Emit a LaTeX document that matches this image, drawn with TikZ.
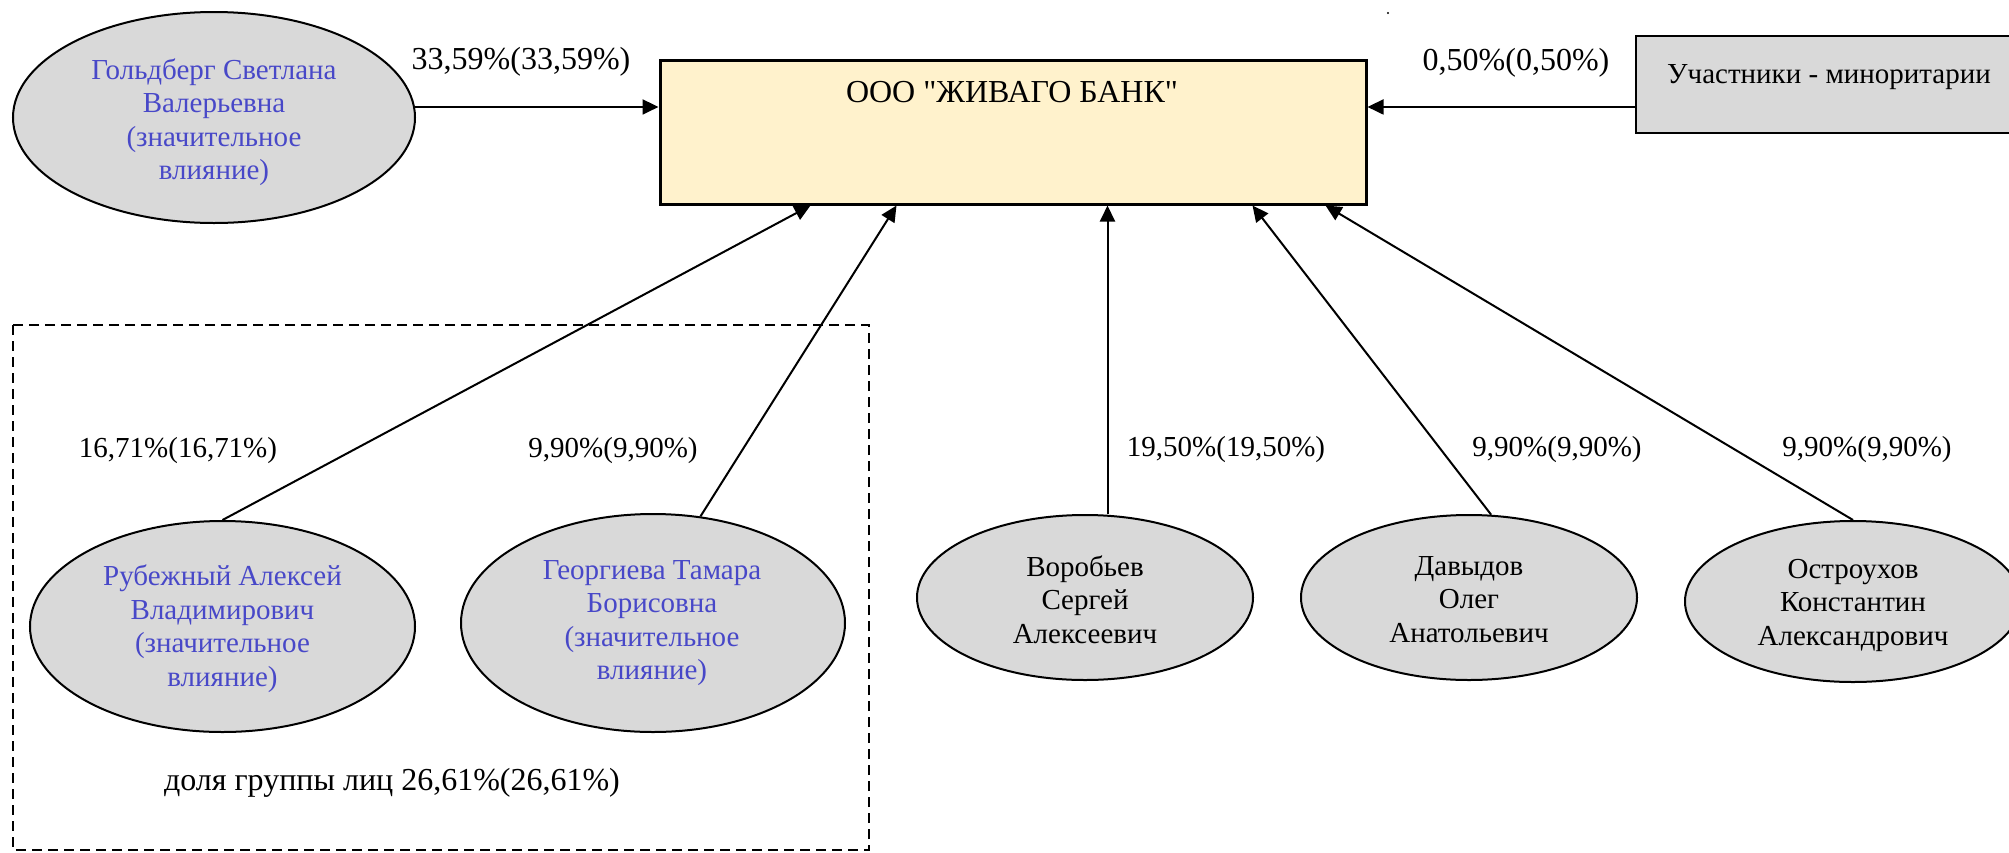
\documentclass[tikz,border=0pt]{standalone}
\usepackage{fontspec}
\setmainfont{Liberation Serif}
\newfontfamily\rawserif{Liberation Serif}
\usetikzlibrary{shapes.geometric,arrows.meta,calc}
\definecolor{ellfill}{RGB}{217,217,217}
\definecolor{bankfill}{RGB}{255,242,204}
\definecolor{nameblue}{RGB}{72,72,200}
\begin{document}
\begin{tikzpicture}[x=0.5pt,y=-0.5pt,
  every node/.style={font=\fontsize{14.5}{16.75}\selectfont, inner sep=0pt},
  person/.style={ellipse, draw=black, line width=1pt, fill=ellfill},
  txt/.style={align=center},
  bigtxt/.style={font=\fontsize{16}{18.4}\selectfont},
  bluetxt/.style={align=center, text=nameblue},
  arr/.style={line width=1pt, -{Triangle[length=8pt,width=7.5pt]}},
  grpbox/.style={line width=0.8pt, dash pattern=on 5pt off 3pt},
]
\useasboundingbox (0,0) rectangle (2009,852);

% group frame
\draw[grpbox] (13,325) rectangle (869,850);

% bank
\node[draw=black, line width=1.5pt, fill=bankfill, minimum width=353pt, minimum height=72pt] (bank) at (1013,132) {};
\node[bigtxt] (bankT) at (1012,92) {{\rawserif ООО "ЖИВАГО БАНК"}};

% minority box
\node[draw=black, line width=1pt, fill=ellfill, minimum width=197pt, minimum height=48.5pt] (minor) at (1833,84.5) {};
\node[txt] (minorT) at (1829,77) {Участники - миноритарии};

% persons
\node[person, minimum width=201pt, minimum height=105.5pt] (gold) at (214,117.5) {};
\node[bluetxt] (goldT) at (214,122) {Гольдберг Светлана\\Валерьевна\\(значительное\\влияние)};

\node[person, minimum width=192.5pt, minimum height=105.5pt] (rub) at (222.5,626.5) {};
\node[bluetxt] (rubT) at (222.5,628.5) {Рубежный Алексей\\Владимирович\\(значительное\\влияние)};

\node[person, minimum width=192pt, minimum height=109pt] (geo) at (653,623) {};
\node[bluetxt] (geoT) at (652,623) {Георгиева Тамара\\Борисовна\\(значительное\\влияние)};

\node[person, minimum width=168pt, minimum height=82.5pt] (vor) at (1085,597.5) {};
\node[txt] (vorT) at (1085,599.5) {Воробьев\\Сергей\\Алексеевич};

\node[person, minimum width=168pt, minimum height=82.5pt] (dav) at (1469,597.5) {};
\node[txt] (davT) at (1469,599.5) {Давыдов\\Олег\\Анатольевич};

\node[person, minimum width=168pt, minimum height=80.5pt] (ost) at (1853,601.5) {};
\node[txt] (ostT) at (1853,605) {Остроухов\\Константин\\Александрович};

% arrow targets on the bank's bottom edge
\coordinate (b1) at ($(bank.south west)+(152,0)$);
\coordinate (b2) at ($(bank.south west)+(238,0)$);
\coordinate (b3) at ($(bank.south west)+(449,0)$);
\coordinate (b4) at ($(bank.south west)+(594,0)$);
\coordinate (b5) at ($(bank.south west)+(667,0)$);

% connectors
\draw[arr] (gold.3) -- (gold.3 -| bank.west);
\draw[arr] (minor.west |- gold.3) -- (bank.east |- gold.3);
\draw[arr] (rub.north) -- (b1);
\draw[arr] (geo.66) -- (b2);
\draw[arr] (b3 |- vor.north) -- (b3);
\draw[arr] (dav.75) -- (b4);
\draw[arr] (ost.north) -- (b5);

% labels
\node[bigtxt] (l1) at (521,62) {33,59\%(33,59\%)};
\node[bigtxt] (l2) at (1516,63) {0,50\%(0,50\%)};
\node (l3) at (178,451) {16,71\%(16,71\%)};
\node (l4) at (613,451) {9,90\%(9,90\%)};
\node (l5) at (1226,450) {19,50\%(19,50\%)};
\node (l6) at (1557,450) {9,90\%(9,90\%)};
\node (l7) at (1867,450) {9,90\%(9,90\%)};
\node[bigtxt] (grpT) at (392,783) {доля группы лиц 26,61\%(26,61\%)};

% stray dot
\fill (1388,13) circle (1.2);
\end{tikzpicture}
\end{document}
